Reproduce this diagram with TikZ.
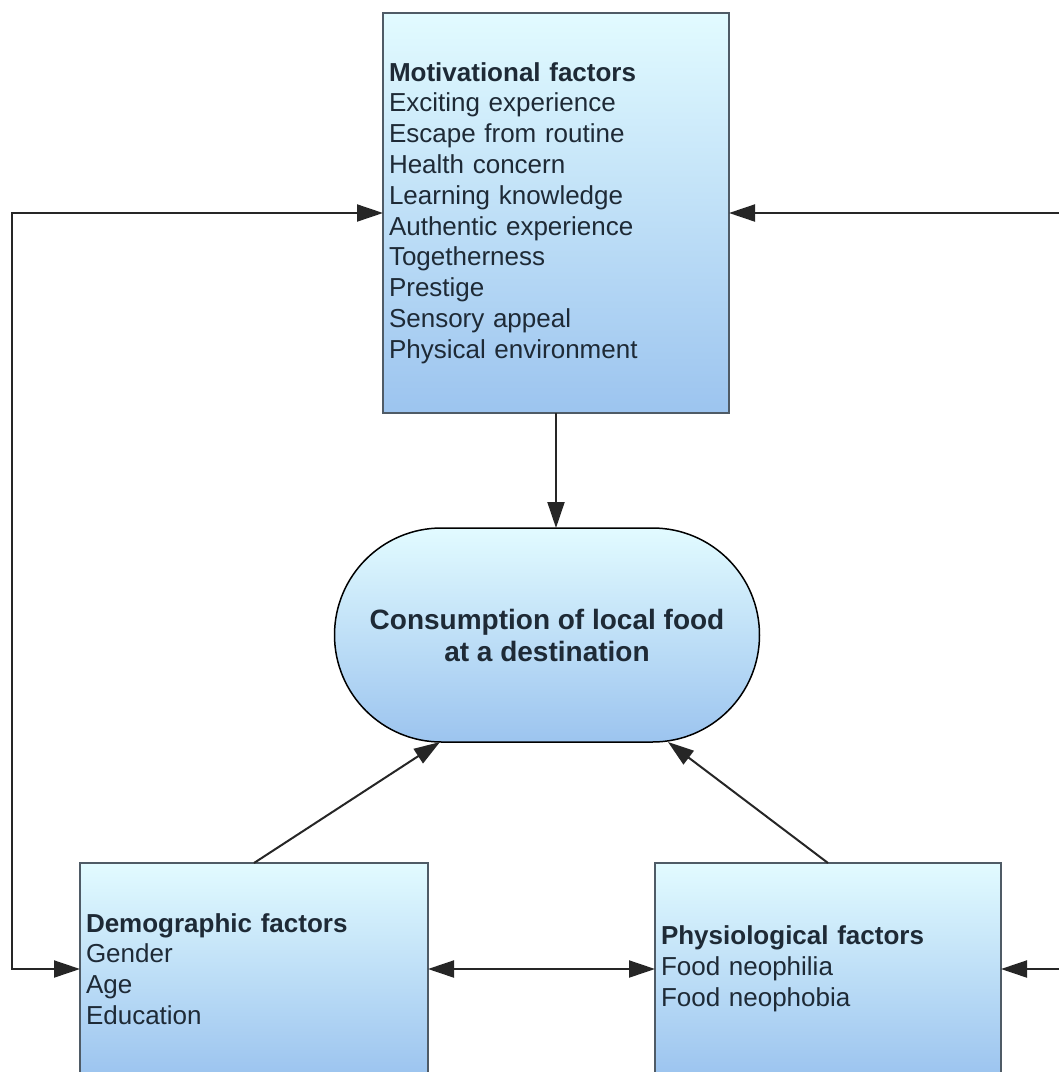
\documentclass[tikz,border=0pt]{standalone}
\usepackage{fontspec}
\setmainfont{Liberation Sans}
\usetikzlibrary{arrows.meta,shapes.misc,calc}
\definecolor{boxtop}{HTML}{E2FBFF}
\definecolor{boxbot}{HTML}{9CC4EF}
\definecolor{frame}{HTML}{4F5B66}
\definecolor{ink}{HTML}{1E2A36}
\begin{document}
\begin{tikzpicture}[x=1pt,y=-1pt,
  factor/.style={draw=frame, line width=2pt, top color=boxtop, bottom color=boxbot,
    align=left, inner xsep=6pt, inner ysep=0pt, outer sep=0pt,
    font=\fontsize{26}{30.8}\selectfont, text=ink},
  goal/.style={draw=black, line width=1.5pt, rounded rectangle,
    top color=boxtop, bottom color=boxbot,
    minimum width=425pt, minimum height=214pt, inner sep=0pt, outer sep=0pt,
    align=center, font=\bfseries\fontsize{28}{32}\selectfont, text=ink},
  tip/.tip={Triangle[length=26pt,width=17pt]},
  link/.style={draw=black!85, line width=2pt, -tip},
  twoway/.style={draw=black!85, line width=2pt, tip-tip}
]
\useasboundingbox (0,0) rectangle (1059,1072);

% factor boxes
\node[factor, minimum width=346pt, text width=334pt, minimum height=400pt] (motiv) at (556,213)
  {\textbf{Motivational factors}\\Exciting experience\\Escape from routine\\Health concern\\
   Learning knowledge\\Authentic experience\\Togetherness\\Prestige\\Sensory appeal\\
   Physical environment};
\node[factor, minimum width=348pt, text width=336pt, minimum height=212pt] (demo) at (254,969)
  {\textbf{Demographic factors}\\Gender\\Age\\Education};
\node[factor, minimum width=346pt, text width=334pt, minimum height=212pt] (phys) at (828,969)
  {\textbf{Physiological factors}\\Food neophilia\\Food neophobia};

% outcome
\node[goal] (cons) at (547,635) {Consumption of local food\\at a destination};

% connectors
\coordinate (railL) at (12,0);
\coordinate (railR) at (1062,0);
\draw[link] (motiv.south) -- (motiv.south |- cons.north);
\draw[link] (demo.north) -- ($(cons.south)+(-107,0)$);
\draw[link] (phys.north) -- ($(cons.south)+(121,0)$);
\draw[twoway] (demo.west) -- (demo.west -| railL) -- (motiv.west -| railL) -- (motiv.west);
\draw[twoway] (demo.east) -- (phys.west);
\draw[link] (motiv.east -| railR) -- (motiv.east);
\draw[link] (phys.east -| railR) -- (phys.east);
\end{tikzpicture}
\end{document}
